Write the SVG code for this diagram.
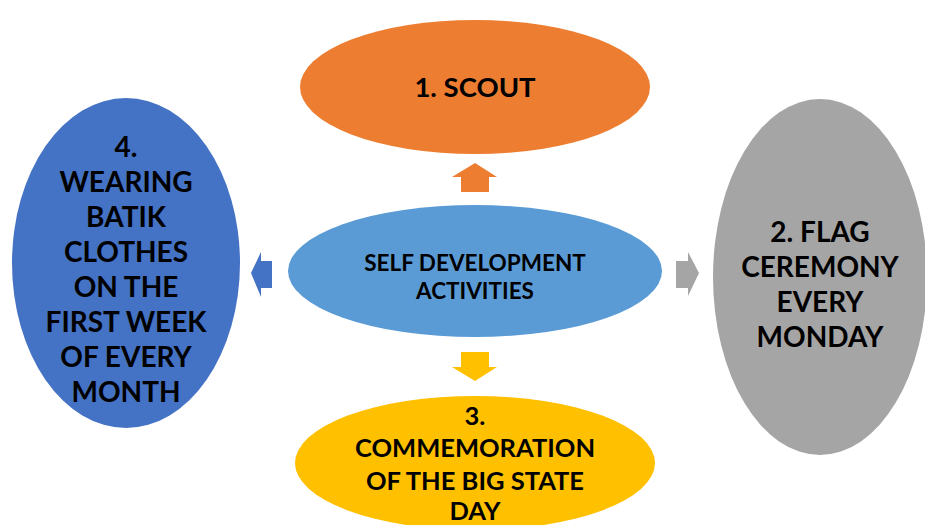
<svg xmlns="http://www.w3.org/2000/svg" width="925" height="525" viewBox="0 0 925 525">
<style>
text{font-family:Lato,"Liberation Sans",sans-serif;font-weight:bold;fill:#000;text-anchor:middle}
.big{font-size:28px}
.mid{font-size:25.5px}
.sc{font-size:27.5px}
.cen{font-size:22.5px}
</style>
<rect width="925" height="525" fill="#fff"/>
<g id="connectors">
<polygon points="461,192 461,177 452,177 475,163 497,177 489,177 489,192" fill="#ED7D31"/>
<polygon points="461,352 461,367 452,367 475,381 497,367 489,367 489,352" fill="#FFC000"/>
<polygon points="272,261 261,261 261,252 251,273 261,297 261,288 272,288" fill="#4472C4"/>
<polygon points="676,261 688,261 688,252 699,273 688,296 688,288 676,288" fill="#A5A5A5"/>
</g>
<g id="center">
<ellipse cx="475" cy="271" rx="187" ry="66" fill="#5B9BD5"/>
<text class="cen" x="475" y="271">SELF DEVELOPMENT</text>
<text class="cen" x="475" y="299">ACTIVITIES</text>
</g>
<g id="scout">
<ellipse cx="475" cy="87" rx="175" ry="67" fill="#ED7D31"/>
<text class="sc" x="475" y="97">1. SCOUT</text>
</g>
<g id="flag">
<ellipse cx="820" cy="277" rx="107" ry="178" fill="#A5A5A5"/>
<text class="big" x="820" y="242">2. FLAG</text>
<text class="big" x="820" y="277">CEREMONY</text>
<text class="big" x="820" y="312">EVERY</text>
<text class="big" x="820" y="347">MONDAY</text>
</g>
<g id="commemoration">
<ellipse cx="475" cy="463" rx="180" ry="67" fill="#FFC000"/>
<text class="mid" x="475" y="425">3.</text>
<text class="mid" x="475" y="457">COMMEMORATION</text>
<text class="mid" x="475" y="490">OF THE BIG STATE</text>
<text class="mid" x="475" y="520">DAY</text>
</g>
<g id="batik">
<ellipse cx="126" cy="263" rx="114" ry="165" fill="#4472C4"/>
<text class="big" x="126" y="157">4.</text>
<text class="big" x="126" y="192">WEARING</text>
<text class="big" x="126" y="227">BATIK</text>
<text class="big" x="126" y="262">CLOTHES</text>
<text class="big" x="126" y="297">ON THE</text>
<text class="big" x="126" y="332">FIRST WEEK</text>
<text class="big" x="126" y="367">OF EVERY</text>
<text class="big" x="126" y="402">MONTH</text>
</g>
</svg>
